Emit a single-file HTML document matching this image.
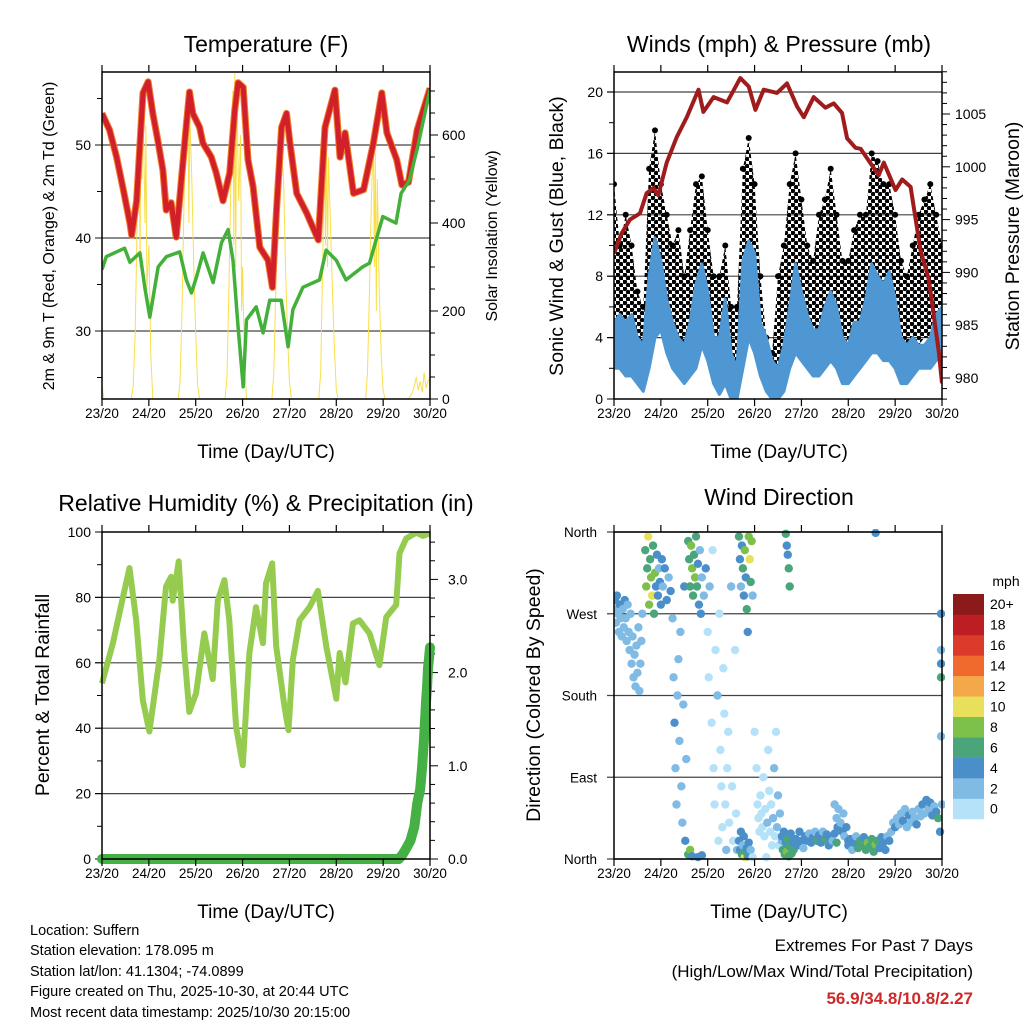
<!DOCTYPE html>
<html><head><meta charset="utf-8">
<style>
html,body{margin:0;padding:0;background:#fff;}
svg{display:block;font-family:"Liberation Sans",Arial,sans-serif;}
</style></head>
<body>
<svg id="chart" width="1024" height="1024" viewBox="0 0 1024 1024" xmlns="http://www.w3.org/2000/svg">
<defs>
<pattern id="gustpat" width="7" height="7" patternUnits="userSpaceOnUse">
<circle cx="1.75" cy="1.75" r="2.4" fill="#000"/>
<circle cx="5.25" cy="5.25" r="2.4" fill="#000"/>
</pattern>
</defs>
<rect x="0" y="0" width="1024" height="1024" fill="#fff"/>
<g id="layer"></g>
<g font-size="14.5" fill="#000">
<text x="30" y="935">Location: Suffern</text>
<text x="30" y="955">Station elevation: 178.095 m</text>
<text x="30" y="976">Station lat/lon: 41.1304; -74.0899</text>
<text x="30" y="996">Figure created on Thu, 2025-10-30, at 20:44 UTC</text>
<text x="30" y="1017">Most recent data timestamp: 2025/10/30 20:15:00</text>
</g>
<g text-anchor="end">
<text x="973" y="951" font-size="17">Extremes For Past 7 Days</text>
<text x="973" y="977" font-size="17">(High/Low/Max Wind/Total Precipitation)</text>
<text x="973" y="1004" font-size="17" font-weight="bold" fill="#cc2a2a">56.9/34.8/10.8/2.27</text>
</g>
</svg>
<script>
// ---------- data ----------
const dayLabels = ["23/20","24/20","25/20","26/20","27/20","28/20","29/20","30/20"];
const tempH = [0,3.9,7.5,10.9,14.3,15.2,17.7,21,23.6,26,28.6,31.2,32.9,35.4,38,39.7,43.1,44.8,46.5,50,51.7,56,58.5,62,65.4,68,69.7,72.3,74.8,77.4,80.8,85.1,87.3,89.4,92,94.5,96.3,99.7,104.8,110.8,114.2,119.3,121.9,124.5,128.8,134,139,143.3,145.9,151,153.6,157,161.4,168];
const tempV = [53.4,51.6,48.7,45.2,41.6,40.3,44,55.6,56.8,53.4,50.5,47.3,43,43.8,40.1,44,51.9,55.7,53.4,51.9,50.2,48.7,47,44,47,53.8,56.7,56.2,48.4,45.5,39,37.6,34.7,43,51.9,53.4,50.2,44.8,42.7,39.8,51.9,55.9,48.7,51.3,44.8,45.2,50.2,55.6,51.3,48.4,45.7,46,51.6,56.1];
const dewH = [0,2.2,11.6,14.3,19.4,21.9,24.5,28.8,33,39.8,43.2,45.8,48.4,51.8,56.9,61.2,64.6,67.1,69.7,72.3,74,79,82.5,85.9,91.8,95.3,97.8,102.9,111.4,114.8,120,125,133.6,137,143.8,150.6,153.2,157.4,161.7,168];
const dewV = [36.6,38,38.9,37.4,38.4,34.7,31.5,36.9,38,38.5,35.5,34.1,35.8,38.4,35.2,39.5,40.9,37.6,30.4,24,31.2,32.6,29.8,33.3,33.3,28.3,32.3,34.7,35.5,38.7,37.6,35.5,36.9,37.3,42.3,41.6,44.8,46.2,49.8,56];
const solarH = [0,1,15,16,17,18,19,19.5,20,20.5,21,22,22.5,23,24,25,26,39,40,41,42,43,44,44.5,45,46,47,48,49,50,63,64,65,66,67,67.5,68,68.5,69,70,71,71.5,72,73,74,87,88,89,90,91,92,93,94,95,96,97,111,112,113,114,114.5,115,115.5,116,117,118,119,120,121,135,136,137,138,139,139.5,140,140.5,141,142,143,144,145,157,159,160,161,162,163,164,165,166,167,168];
const solarV = [30,0,0,30,150,400,650,300,690,500,680,400,620,250,350,100,0,0,40,200,450,600,657,400,640,500,300,150,30,0,0,50,250,500,700,350,740,300,720,450,600,200,300,80,0,0,60,250,450,590,560,500,300,150,40,0,0,60,300,550,350,618,300,550,400,250,120,20,0,0,60,250,450,595,300,560,200,500,250,100,20,0,0,15,30,50,20,40,15,60,25,40,50];
const windH = [0,3,6,9,12,15,18,21,24,27,30,33,36,39,42,45,48,51,54,57,60,63,66,69,72,75,78,81,84,87,90,93,96,99,102,105,108,111,114,117,120,123,126,129,132,135,138,141,144,147,150,153,156,159,162,165,168];
const windHigh = [5,5.5,5,5.5,4,3.5,8,10.5,9,6.5,5,4,3.5,5,7.5,8.8,7,4,4,6.5,3,2,9,10.3,9.5,5,4,2.5,2,3.5,6,8.8,7,5.5,4.5,4.5,6,7,6,4,3.5,5,5,6.5,8.8,8,7.5,8.3,6.5,4,3.5,4,3.5,3.5,4,5.5,6];
const windLow = [2,2,1.5,1.5,1,0.5,2,4,4.5,3,2,1.5,1,1.5,2,3.5,2.5,1,0.3,1,0,0,2,4,3,1.5,0.5,0,0,0.5,2,3,2.5,2,1.5,1.5,2,2.5,2,1,1,1.5,2,2.5,3,3,2.5,2.5,2,1,1,1.5,2,2,2,2.5,3];
const gustHigh = [14,10,12,10,7,6,15,17.5,14,12,10,11,8,11,14,14.5,11,8,8,10,6,6,15,17,14,8,4,3,8,10,14,16,13,10,9,12,13,15,12,9,9,11,12,12,16,15.5,14,14,12,9,8,10,12,13,14,12,10];
const gustLow = [5,4,4.5,4,2.5,2.5,6,8,7,5,4,3,2.5,4,6,7,5,3,1.5,3,1,0.5,5,7,6,3,2,1.5,1.5,2.5,4,6,5,4,3.5,4,4,5,4.5,3,3,4,4,4.5,5.5,5.5,5,5,4,2.5,2.5,3,3.5,4,4,4.5,4];
const presH = [0,3.9,8.2,13.3,16.7,20.2,22.7,27,32.1,37.3,43.3,45.8,51,57.9,64.7,69,72.4,76.7,83.5,88.6,93.8,97.2,102.3,108.3,112.6,116.8,119.4,123.7,126.3,135.6,138.2,144.2,147.6,151.9,157,161.3,166.4,168];
const presV = [991.8,993.7,995,995.6,997.5,998,997.3,1000.4,1002.8,1004.7,1007.3,1005.2,1006.6,1006.1,1008.4,1007.6,1005.4,1007.3,1007,1007.9,1005.7,1004.7,1006.6,1005.6,1006,1005.1,1002.7,1001.8,1001.7,999.2,1000.4,997.8,998.8,998.1,992.1,989.3,982.4,979.5];
const rhH = [0,5.6,10.7,14.1,17.5,20.9,24.3,29.4,32.8,35.4,36.2,39.3,42.2,44.7,48.2,52.4,56.7,59.3,62.7,65.2,68.7,72.1,75.5,78.9,82.4,84,87.2,89.2,93.5,95.5,97.8,101.2,106.3,110.6,114.9,120,121.7,124.7,128.5,131.9,137,142.1,145.6,150.7,152.4,155.8,161,164.4,167.8];
const rhV = [53.7,66,80,89,73,48.6,39,61,83.3,86.3,79,91,63,45,50.7,69,55,79,85.3,73,40.4,28.7,63,77,66,84.3,90.4,65,46.6,39.4,61,73,77,82,65,49,63,54,72,73,69,59.3,74,77.7,93.5,98,99.8,98.8,99.6];
const precipH = [0,152,154,156,158,160,161.5,163,164,165,166,166.5,167,167.5,168];
const precipV = [0,0,0.05,0.12,0.2,0.35,0.6,0.75,1.0,1.3,1.7,1.85,2.05,2.15,2.27];
const dirH = [0,0.5,1,1.5,2,2.5,3,3.5,4,4.5,5,5.5,6,6.5,7,7.5,8,8.5,9,9.5,10,10.5,11,11.5,12,12.5,13,13.5,14,14.5,
16,16.5,17,17.5,18,18.5,19,19.5,20,20.5,21,21.5,22,22.5,23,23.5,24,24.5,25,26,27,28,29,
30,30.5,31,31.5,32,32.5,33,33.5,34,34.5,35,35.5,36,36.5,37,
38,38.5,39,39.5,40,40.5,41,41.5,42,42.5,43,43.5,44,44.5,45,46,47,38,39,40,43,45,
48,48.5,49,50,50.5,51,51.5,52,53,53.5,54,54.5,55,55.5,56,56.5,57,57.5,58,58.5,59,60,60.5,61,62,62.5,63,
64,64.5,65,65.5,66,66.5,67,67.5,68,68.5,69,69.5,70,70.5,71,
64,64.5,65,65.5,66,66.5,67,67.5,68,68.5,69,69.5,70,71,
72,73,73.5,74,74.5,75,75.5,76,76.5,77,77.5,78,78.5,79,79.5,80,80.5,81,81.5,82,82.5,83,83.5,84,84.5,85,86,87,
88,88.5,89,89.5,90,
86,86.5,87,87.5,88,88.5,89,89.5,90,90.5,91,91.5,92,93,94,95,96,97,
98,99,100,101,102,103,104,105,106,107,108,109,110,111,112,113,114,
113,114,114.5,115,116,117,117.5,118,119,120,
120,121,122,123,124,125,126,127,128,129,130,131,132,133,134,135,136,137,138,139,140,141,
142,143,144,145,146,147,148,149,150,151,152,153,154,155,156,157,158,159,160,161,162,163,164,165,166,167,168,
167.5,167.5,167.5,167.5,167.5,134];
const dirD = [275,285,260,290,270,250,280,265,245,275,255,285,265,240,280,250,230,270,215,245,200,225,190,235,205,255,185,215,240,270,
340,300,320,355,280,330,310,290,345,270,315,300,335,290,320,305,280,330,300,320,285,310,295,
265,200,150,100,60,180,220,130,250,80,40,170,300,20,110,
350,330,300,345,320,290,335,310,355,300,325,280,340,270,310,290,320,5,10,3,2,4,
250,200,300,150,340,100,60,230,180,20,270,120,80,35,210,160,60,10,100,140,40,300,80,20,230,50,10,
355,330,300,345,320,290,340,310,275,250,355,330,305,350,290,
20,10,30,5,15,25,2,8,12,3,18,4,10,2,
140,100,60,45,30,70,50,35,90,25,55,2,40,120,75,30,60,15,45,100,25,140,35,70,15,50,20,10,
358,345,335,320,300,
25,10,30,5,18,8,22,3,14,28,6,18,10,22,15,30,20,12,
25,20,28,18,24,30,20,26,18,30,22,27,15,24,20,28,18,
60,45,35,55,40,30,50,25,35,20,
15,22,10,18,25,12,20,15,24,10,18,14,22,8,16,20,12,24,18,10,25,20,
30,40,35,45,38,50,42,55,35,48,40,52,45,38,55,47,60,50,65,55,62,48,58,52,45,30,60,
270,230,215,200,135,359];
const dirS = [3,4,3,4,2,3,4,3,2,3,2,4,3,2,3,2,2,3,2,3,2,2,2,3,2,3,2,2,2,3,
6,8,7,10,8,6,9,10,7,6,8,4,4,4,3,4,4,4,3,4,4,3,4,
2,3,4,3,2,3,3,2,2,2,3,2,4,4,2,
6,7,6,8,8,7,6,9,6,7,4,4,3,4,2,2,4,6,8,4,4,4,
1,0,2,1,1,0,1,0,2,1,0,1,0,0,1,1,0,2,0,1,0,2,1,1,1,1,3,
6,4,2,4,6,4,8,4,6,4,8,10,6,8,2,
4,4,4,6,2,4,10,6,4,6,4,4,2,0,
0,1,0,0,0,1,0,1,0,1,0,1,2,0,1,0,1,0,2,2,1,0,2,2,1,2,2,3,
6,4,4,6,6,
4,6,4,6,4,8,6,6,6,4,7,4,6,4,4,4,4,2,
4,4,2,4,4,2,6,4,4,2,6,4,4,4,2,4,6,
2,2,4,2,2,4,2,2,4,4,
4,4,2,4,2,6,6,6,4,6,8,6,6,6,8,6,4,4,4,4,2,4,
2,2,4,2,2,2,4,2,2,4,2,2,2,4,2,2,4,2,4,2,4,4,2,4,6,4,2,
4,2,4,6,2,4];
const speedColors = ["#b5e2f8","#7fbbe5","#4a8fc9","#4aa67a","#7dc14b","#e8e05a","#f5a84a","#f06a2e","#dc3a2a","#bd1e24","#8b1a1a"];
const speedLabels = ["0","2","4","6","8","10","12","14","16","18","20+"];

// ---------- helpers ----------
const NS = "http://www.w3.org/2000/svg";
const layer = document.getElementById("layer");
function mk(tag, attrs, parent){
  const e = document.createElementNS(NS, tag);
  for (const k in attrs) e.setAttribute(k, attrs[k]);
  (parent||layer).appendChild(e);
  return e;
}
function txt(x,y,s,size,anchor,parent,rot){
  const t = mk("text",{x:x,y:y,"font-size":size,"text-anchor":anchor||"middle",fill:"#000"},parent);
  if (rot) t.setAttribute("transform","rotate("+rot+" "+x+" "+y+")");
  t.textContent = s;
  return t;
}
function pathFrom(xs, ys, fx, fy){
  let d="";
  for (let i=0;i<xs.length;i++) d += (i?"L":"M")+fx(xs[i]).toFixed(1)+" "+fy(ys[i]).toFixed(1);
  return d;
}
function bandFrom(xs, lo, hi, fx, fy){
  let d="";
  for (let i=0;i<xs.length;i++) d += (i?"L":"M")+fx(xs[i]).toFixed(1)+" "+fy(hi[i]).toFixed(1);
  for (let i=xs.length-1;i>=0;i--) d += "L"+fx(xs[i]).toFixed(1)+" "+fy(lo[i]).toFixed(1);
  return d+"Z";
}
function xTicks(g, x0, x1, y0, y1){
  for (let i=0;i<dayLabels.length;i++){
    const x = x0 + i*(x1-x0)/(dayLabels.length-1);
    mk("line",{x1:x,y1:y1,x2:x,y2:y1+7,stroke:"#000","stroke-width":1.2},g);
    mk("line",{x1:x,y1:y0,x2:x,y2:y0-7,stroke:"#000","stroke-width":1.2},g);
    const t = txt(x, y1+19, dayLabels[i], 13.5, "middle", g);
    
    
  }
}
function frame(g,x0,x1,y0,y1){
  const r = mk("rect",{x:x0,y:y0,width:x1-x0,height:y1-y0,fill:"none",stroke:"#000","stroke-width":1.5},g);
  
  
}
function hgrid(g,x0,x1,y){
  mk("line",{x1:x0-7,y1:y,x2:x1,y2:y,stroke:"#444","stroke-width":1.2},g);
}
function grp(name){
  const g = mk("g",{});
  
  
  return g;
}

// ---------- Panel 1: Temperature ----------
(function(){
  const x0=102,x1=430,y0=72,y1=399;
  const fx = h => x0 + h*(x1-x0)/168;
  const fT = v => 145 + (50-v)*9.3;
  const fS = v => 399 - v*0.44;
  const g = grp("temperature-panel");
  [30,40,50].forEach(v=>{ hgrid(g,x0,x1,fT(v)); const t=txt(x0-11,fT(v)+5,String(v),14,"end",g);   });
  [25,35,45,55].forEach(v=>mk("line",{x1:x0-5,y1:fT(v),x2:x0,y2:fT(v),stroke:"#000"},g));
  for (let v=0; v<=700; v+=50){ const big=v%200===0; mk("line",{x1:x1,y1:fS(v),x2:x1+(big?8:5),y2:fS(v),stroke:"#000"},g);
    if (big){ const t=txt(x1+12,fS(v)+5,String(v),14,"start",g);   } }
  const cp = mk("clipPath",{id:"c1"},g); mk("rect",{x:x0,y:y0,width:x1-x0,height:y1-y0},cp);
  const d = grp("temperature-series"); d.setAttribute("clip-path","url(#c1)"); g.appendChild(d);
  const sol = mk("path",{d:pathFrom(solarH,solarV,fx,fS),fill:"none",stroke:"#f8df4a","stroke-width":1},d);
   
  const org = mk("path",{d:pathFrom(tempH,tempV,fx,fT),fill:"none",stroke:"#f07a2a","stroke-width":7,"stroke-linejoin":"round"},d);
   
  const red = mk("path",{d:pathFrom(tempH,tempV,fx,fT),fill:"none",stroke:"#d2202a","stroke-width":5,"stroke-linejoin":"round"},d);
   
  const dw = mk("path",{d:pathFrom(dewH,dewV,fx,fT),fill:"none",stroke:"#43b03a","stroke-width":3.5,"stroke-linejoin":"round"},d);
   
  frame(g,x0,x1,y0,y1); xTicks(g,x0,x1,y0,y1);
  let t = txt(266,52,"Temperature (F)",23,"middle",g);  
  t = txt(266,458,"Time (Day/UTC)",19,"middle",g);  
  t = txt(54,236,"2m & 9m T (Red, Orange) & 2m Td (Green)",16,"middle",g,-90);  
  t = txt(497,236,"Solar Insolation (Yellow)",16,"middle",g,-90);  
})();

// ---------- Panel 2: Winds & Pressure ----------
(function(){
  const x0=614,x1=942,y0=72,y1=399;
  const fx = h => x0 + h*(x1-x0)/168;
  const fW = v => 399 - v*15.35;
  const fP = p => 378 - (p-980)*10.56;
  const g = grp("winds-panel");
  [4,8,12,16,20].forEach(v=>hgrid(g,x0,x1,fW(v)));
  for (let v=0; v<=20; v+=2){ const big=v%4===0; mk("line",{x1:x0-(big?7:5),y1:fW(v),x2:x0,y2:fW(v),stroke:"#000"},g);
    if (big){ const t=txt(x0-11,fW(v)+5,String(v),14,"end",g);   } }
  for (let p=978; p<=1009; p++){ const big=p%5===0; mk("line",{x1:x1,y1:fP(p),x2:x1+(big?8:5),y2:fP(p),stroke:"#000"},g);
    if (big){ const t=txt(x1+13,fP(p)+5,String(p),14,"start",g);   } }
  const cp = mk("clipPath",{id:"c2"},g); mk("rect",{x:x0,y:y0,width:x1-x0,height:y1-y0},cp);
  const d = grp("wind-series"); d.setAttribute("clip-path","url(#c2)"); g.appendChild(d);
  const gb = mk("path",{d:bandFrom(windH,gustLow,gustHigh,fx,fW),fill:"url(#gustpat)",stroke:"none"},d);
   
  for (let i=0;i<windH.length;i++){
    const c = mk("circle",{cx:fx(windH[i]),cy:fW(gustHigh[i]),r:3,fill:"#000"},d);
    
    
  }
  const wb = mk("path",{d:bandFrom(windH,windLow,windHigh,fx,fW),fill:"#4f97d2",stroke:"#4f97d2","stroke-width":3,"stroke-linejoin":"round"},d);
   
  const pr = mk("path",{d:pathFrom(presH,presV,fx,fP),fill:"none",stroke:"#a01b1b","stroke-width":4,"stroke-linejoin":"round"},d);
   
  frame(g,x0,x1,y0,y1); xTicks(g,x0,x1,y0,y1);
  let t = txt(779,52,"Winds (mph) & Pressure (mb)",23,"middle",g);  
  t = txt(779,458,"Time (Day/UTC)",19,"middle",g);  
  t = txt(563,236,"Sonic Wind & Gust (Blue, Black)",19.5,"middle",g,-90);  
  t = txt(1019,236,"Station Pressure (Maroon)",19.5,"middle",g,-90);  
})();

// ---------- Panel 3: RH & Precip ----------
(function(){
  const x0=102,x1=430,y0=532,y1=859;
  const fx = h => x0 + h*(x1-x0)/168;
  const fR = v => 859 - v*3.27;
  const fQ = v => 859 - v*93.2;
  const g = grp("humidity-panel");
  [20,40,60,80].forEach(v=>hgrid(g,x0,x1,fR(v)));
  for (let v=0; v<=100; v+=10){ const big=v%20===0; mk("line",{x1:x0-(big?7:5),y1:fR(v),x2:x0,y2:fR(v),stroke:"#000"},g);
    if (big){ const t=txt(x0-11,fR(v)+5,String(v),14,"end",g);   } }
  for (let k=0; k<=17; k++){ const v=k*0.2; const big=k%5===0; mk("line",{x1:x1,y1:fQ(v),x2:x1+(big?8:5),y2:fQ(v),stroke:"#000"},g);
    if (big){ const t=txt(x1+18,fQ(v)+5,v.toFixed(1),14,"start",g);   } }
  const cp = mk("clipPath",{id:"c3"},g); mk("rect",{x:x0-6,y:y0,width:x1-x0+12,height:y1-y0+6},cp);
  const d = grp("humidity-series"); d.setAttribute("clip-path","url(#c3)"); g.appendChild(d);
  const rh = mk("path",{d:pathFrom(rhH,rhV,fx,fR),fill:"none",stroke:"#95cc50","stroke-width":6,"stroke-linejoin":"round"},d);
   
  const pq = mk("path",{d:pathFrom(precipH,precipV,fx,fQ),fill:"none",stroke:"#45b044","stroke-width":10,"stroke-linejoin":"round","stroke-linecap":"round"},d);
   
  frame(g,x0,x1,y0,y1); xTicks(g,x0,x1,y0,y1);
  let t = txt(266,511,"Relative Humidity (%) & Precipitation (in)",23,"middle",g);  
  t = txt(266,918,"Time (Day/UTC)",19,"middle",g);  
  t = txt(49,695,"Percent & Total Rainfall",19.5,"middle",g,-90);  
})();

// ---------- Panel 4: Wind Direction ----------
(function(){
  const x0=614,x1=942,y0=532,y1=859;
  const fx = h => x0 + h*(x1-x0)/168;
  const fD = v => 859 - v*0.9083;
  const g = grp("wind-direction-panel");
  const names = ["North","East","South","West","North"];
  for (let i=0;i<5;i++){ const y=fD(i*90); hgrid(g,x0,x1,y);
    const t=txt(x0-17,y+5,names[i],13.5,"end",g);   }
  const cp = mk("clipPath",{id:"c4"},g); mk("rect",{x:x0,y:y0-3,width:x1-x0+3,height:y1-y0+6},cp);
  const d = grp("direction-points"); d.setAttribute("clip-path","url(#c4)"); g.appendChild(d);
  for (let i=0;i<dirH.length;i++){
    const bin = Math.min(10, Math.floor(dirS[i]/2));
    const c = mk("circle",{cx:fx(dirH[i]),cy:fD(dirD[i]),r:4.2,fill:speedColors[bin]},d);
    
    
  }
  frame(g,x0,x1,y0,y1); xTicks(g,x0,x1,y0,y1);
  let t = txt(779,505,"Wind Direction",23,"middle",g);  
  t = txt(779,918,"Time (Day/UTC)",19,"middle",g);  
  t = txt(540,695,"Direction (Colored By Speed)",19.5,"middle",g,-90);  
  const cb = grp("speed-colorbar"); g.appendChild(cb);
  const top=594, h=20.45;
  for (let i=0;i<speedColors.length;i++){
    const y = top + (speedColors.length-1-i)*h;
    const r = mk("rect",{x:953,y:y,width:31,height:h+0.3,fill:speedColors[i]},cb);
    
    
    const l = txt(990,y+h/2+5,speedLabels[i],14,"start",cb);
    
    
  }
  t = txt(1006,586,"mph",14,"middle",cb);  
})();
</script>
</body></html>
